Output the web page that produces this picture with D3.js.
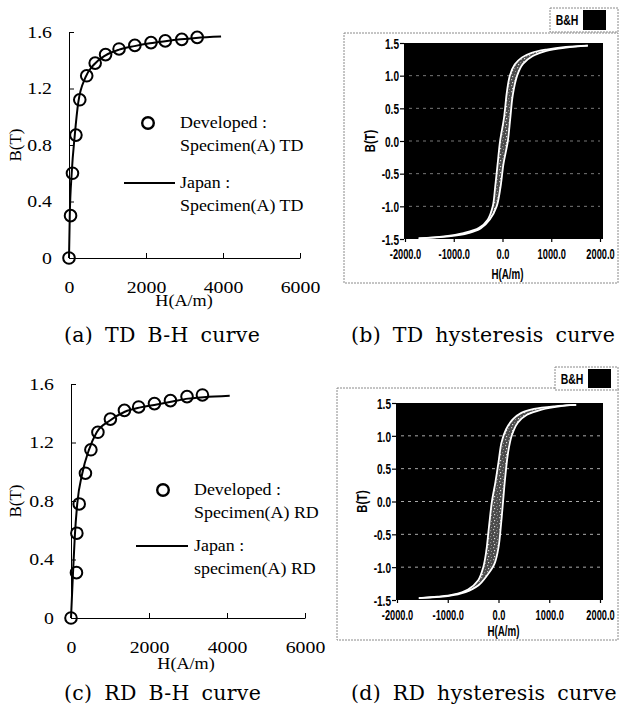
<!DOCTYPE html>
<html><head><meta charset="utf-8">
<script src="https://cdn.jsdelivr.net/npm/d3@7"></script>
<style>body{margin:0;background:#fff}svg{display:block}</style>
</head><body>
<svg id="c" width="619" height="712"></svg>
<script>
// ---------- data ----------
const bhTicksX = [0, 2000, 4000, 6000];
const bhTickLabelsX = ["0", "2000", "4000", "6000"];
const bhTicksY = [0, 0.4, 0.8, 1.2, 1.6];
const bhTickLabelsY = ["0", "0.4", "0.8", "1.2", "1.6"];

const tdDevH = [0, 40, 90, 180, 280, 460, 680, 950, 1300, 1710, 2130, 2500, 2930, 3330];
const tdDevB = [0, 0.30, 0.60, 0.87, 1.12, 1.29, 1.38, 1.44, 1.48, 1.505, 1.525, 1.537, 1.548, 1.562];
const tdJapH = [0, 20, 70, 150, 240, 430, 650, 950, 1300, 1700, 2100, 2500, 2900, 3300, 3950];
const tdJapB = [0, 0.30, 0.60, 0.87, 1.10, 1.28, 1.37, 1.435, 1.475, 1.50, 1.52, 1.535, 1.548, 1.558, 1.568];

const rdDevH = [0, 140, 150, 210, 370, 510, 690, 1010, 1370, 1735, 2140, 2550, 2975, 3370];
const rdDevB = [0, 0.31, 0.58, 0.78, 0.99, 1.15, 1.27, 1.36, 1.42, 1.443, 1.466, 1.486, 1.514, 1.525];
const rdJapH = [0, 50, 100, 160, 290, 460, 660, 1000, 1380, 1780, 2200, 2600, 3000, 3400, 4070];
const rdJapB = [0, 0.30, 0.57, 0.78, 0.99, 1.15, 1.27, 1.35, 1.41, 1.44, 1.46, 1.48, 1.50, 1.51, 1.52];

const hyTicksX = [-2000, -1000, 0, 1000, 2000];
const hyTickLabelsX = ["-2000.0", "-1000.0", "0.0", "1000.0", "2000.0"];
const hyTicksY = [-1.5, -1, -0.5, 0, 0.5, 1, 1.5];
const hyTickLabelsY = ["-1.5", "-1.0", "-0.5", "0.0", "0.5", "1.0", "1.5"];
const hyGrid = [-1, -0.5, 0, 0.5, 1];

const tdDescH = [1750, 1300, 900, 600, 400, 250, 150, 90, 30, -50, -100, -150, -200, -300, -480, -800, -1200, -1720];
const tdDescB = [1.46, 1.44, 1.40, 1.35, 1.28, 1.17, 1.0, 0.75, 0.35, 0, -0.35, -0.7, -1.0, -1.2, -1.33, -1.41, -1.46, -1.49];
const tdAscH = [-1720, -1100, -700, -450, -260, -120, -40, 20, 110, 160, 210, 300, 420, 620, 900, 1300, 1750];
const tdAscB = [-1.49, -1.46, -1.41, -1.34, -1.2, -1.0, -0.7, -0.35, 0, 0.35, 0.7, 1.0, 1.18, 1.3, 1.38, 1.43, 1.46];

const rdDescH = [1530, 1100, 700, 450, 280, 150, 60, 0, -60, -130, -190, -240, -300, -400, -600, -900, -1200, -1570];
const rdDescB = [1.47, 1.45, 1.41, 1.35, 1.25, 1.1, 0.9, 0.6, 0.3, 0, -0.4, -0.75, -1.0, -1.2, -1.34, -1.42, -1.45, -1.47];
const rdAscH = [-1570, -1000, -650, -400, -220, -80, 0, 50, 90, 130, 190, 260, 380, 560, 850, 1200, 1530];
const rdAscB = [-1.47, -1.44, -1.38, -1.28, -1.12, -0.95, -0.7, -0.35, 0, 0.35, 0.75, 1.0, 1.2, 1.32, 1.4, 1.45, 1.47];

const captions = ["(a) TD B-H curve", "(b) TD hysteresis curve", "(c) RD B-H curve", "(d) RD hysteresis curve"];

// ---------- helpers ----------
const svg = d3.select("#c");
const SERIF = "'Liberation Serif','Times New Roman',serif";
const SANS = "'Liberation Sans',Arial,sans-serif";

const defs = svg.append("defs");
const pat = defs.append("pattern").attr("id", "speck").attr("patternUnits", "userSpaceOnUse")
  .attr("width", 6).attr("height", 6);
pat.append("rect").attr("width", 6).attr("height", 6).attr("fill", "#4a4a4a");
[[1, 1, "#bbb"], [4, 2, "#888"], [2, 4, "#ddd"], [5, 5, "#999"]].forEach(p =>
  pat.append("rect").attr("x", p[0]).attr("y", p[1]).attr("width", 1.2).attr("height", 1.2).attr("fill", p[2]));

function stext(g, x, y, str, o) {
  o = o || {};
  const sx = o.sx || 1, rot = o.rot || 0;
  return g.append("text")
    .attr("transform", `translate(${x},${y}) rotate(${rot}) scale(${sx},1)`)
    .attr("text-anchor", o.anchor || "start")
    .attr("font-family", o.family || SERIF)
    .attr("font-size", o.size || 16)
    .attr("font-weight", o.weight || "normal")
    .attr("fill", o.fill || "#000")
    .text(str);
}
function scaleTickText(axisG, sx) {
  axisG.selectAll(".tick text").each(function () {
    const t = d3.select(this);
    const x = +t.attr("x") || 0;
    t.attr("x", x / sx).attr("transform", `scale(${sx},1)`);
  });
}
const zip = (a, b) => a.map((v, i) => [v, b[i]]);

// ---------- B-H panel ----------
function bhPanel(c) {
  const g = svg.append("g");
  const x = d3.scaleLinear().domain([0, 6000]).range([c.x0, c.x1]);
  const y = d3.scaleLinear().domain([0, 1.6]).range([c.y0, c.y1]);

  const ax = g.append("g").attr("transform", `translate(0,${c.y0})`)
    .call(d3.axisBottom(x).tickValues(bhTicksX).tickFormat((d, i) => bhTickLabelsX[i])
      .tickSizeInner(-5).tickSizeOuter(0).tickPadding(23));
  const ay = g.append("g").attr("transform", `translate(${c.x0},0)`)
    .call(d3.axisLeft(y).tickValues(bhTicksY).tickFormat((d, i) => bhTickLabelsY[i])
      .tickSizeInner(-5).tickSizeOuter(0).tickPadding(17));
  [ax, ay].forEach(a => {
    a.selectAll("text").attr("font-family", SERIF).attr("font-size", 16.5).attr("fill", "#000");
    a.selectAll("line,path").attr("stroke", "#000").attr("stroke-width", 1);
  });
  scaleTickText(ax, 1.2);
  scaleTickText(ay, 1.2);

  stext(g, 15, (c.y0 + c.y1) / 2, "B(T)", { rot: -90, anchor: "middle", size: 17, sx: 1.0 }).attr("dy", "0.35em");
  stext(g, c.hx, c.hy, "H(A/m)", { anchor: "middle", size: 16.5, sx: 1.1 });

  const line = d3.line().x(d => x(d[0])).y(d => y(d[1])).curve(d3.curveMonotoneX);
  g.append("path").datum(zip(c.japH, c.japB)).attr("d", line)
    .attr("fill", "none").attr("stroke", "#000").attr("stroke-width", 2);
  g.selectAll("circle.dev").data(zip(c.devH, c.devB)).join("circle")
    .attr("class", "dev").attr("cx", d => x(d[0])).attr("cy", d => y(d[1])).attr("r", 5.8)
    .attr("fill", "none").attr("stroke", "#000").attr("stroke-width", 2);

  const L = c.leg;
  g.append("circle").attr("cx", L.cx).attr("cy", L.cy).attr("r", 5.8)
    .attr("fill", "none").attr("stroke", "#000").attr("stroke-width", 2.4);
  const ls = { size: 16, sx: 1.12 };
  stext(g, L.tx, L.cy + 5, "Developed :", ls);
  stext(g, L.tx, L.cy + 28, L.l1, ls);
  g.append("line").attr("x1", L.lx0).attr("x2", L.lx1).attr("y1", L.ly).attr("y2", L.ly)
    .attr("stroke", "#000").attr("stroke-width", 2);
  stext(g, L.tx, L.ly + 5, "Japan :", ls);
  stext(g, L.tx, L.ly + 28, L.l2, ls);
}

// ---------- hysteresis panel ----------
function hyPanel(c) {
  const g = svg.append("g");
  g.append("rect").attr("x", c.fx0).attr("y", c.fy0).attr("width", c.fx1 - c.fx0).attr("height", c.fy1 - c.fy0)
    .attr("fill", "none").attr("stroke", "#8a8a8a").attr("stroke-width", 1).attr("stroke-dasharray", "2,1");
  g.append("rect").attr("x", c.lbx).attr("y", c.lby).attr("width", 618 - c.lbx).attr("height", c.lbh)
    .attr("fill", "#fff").attr("stroke", "#8a8a8a").attr("stroke-width", 1).attr("stroke-dasharray", "2,1");
  stext(g, c.lbx + 17, c.lby + c.lbh / 2 + 5, "B&H", { size: 14, weight: "bold", family: SANS, sx: 0.75, anchor: "middle" });
  g.append("rect").attr("x", c.lbx + 33).attr("y", c.lby + 2).attr("width", 23).attr("height", c.lbh - 4).attr("fill", "#000");

  const x = d3.scaleLinear().domain([-2000, 2000]).range([c.px0, c.px1]);
  const y = d3.scaleLinear().domain([-1.5, 1.5]).range([c.py0, c.py1]);
  g.append("rect").attr("x", c.px0 - 1).attr("y", c.py1).attr("width", c.px1 - c.px0 + 4).attr("height", c.py0 - c.py1)
    .attr("fill", "#000");

  g.selectAll("line.grid").data(hyGrid).join("line").attr("class", "grid")
    .attr("x1", c.px0 + 4).attr("x2", c.px1).attr("y1", d => y(d)).attr("y2", d => y(d))
    .attr("stroke", c.gridColor).attr("stroke-width", 1).attr("stroke-dasharray", "3,4");

  const ax = g.append("g").attr("transform", `translate(0,${c.py0})`)
    .call(d3.axisBottom(x).tickValues(hyTicksX).tickFormat((d, i) => hyTickLabelsX[i])
      .tickSizeInner(3).tickSizeOuter(0).tickPadding(7));
  const ay = g.append("g").attr("transform", `translate(${c.px0 - 1},0)`)
    .call(d3.axisLeft(y).tickValues(hyTicksY).tickFormat((d, i) => hyTickLabelsY[i])
      .tickSizeInner(4).tickSizeOuter(0).tickPadding(1));
  [ax, ay].forEach(a => {
    a.select(".domain").remove();
    a.selectAll("text").attr("font-family", SANS).attr("font-size", 14).attr("font-weight", "bold").attr("fill", "#000");
    a.selectAll("line").attr("stroke", "#000").attr("stroke-width", 1.2);
  });
  ay.selectAll("text").attr("dy", "0.38em");
  scaleTickText(ax, 0.66);
  scaleTickText(ay, 0.72);

  stext(g, c.bx, (c.py0 + c.py1) / 2, "B(T)", { rot: -90, anchor: "middle", size: 14, weight: "bold", family: SANS, sx: 0.8 }).attr("dy", "0.35em");
  stext(g, (c.px0 + c.px1) / 2 + 5, c.hy, "H(A/m)", { anchor: "middle", size: 14, weight: "bold", family: SANS, sx: 0.7 });

  const pts = zip(c.descH, c.descB).concat(zip(c.ascH, c.ascB).slice(1));
  const lineC = d3.line().x(d => x(d[0])).y(d => y(d[1])).curve(d3.curveCatmullRomClosed.alpha(0.5));
  g.append("path").datum(pts.slice(0, -1)).attr("d", lineC)
    .attr("fill", "url(#speck)").attr("stroke", "none");
  const lineO = d3.line().x(d => x(d[0])).y(d => y(d[1])).curve(d3.curveCatmullRom.alpha(0.5));
  [zip(c.descH, c.descB), zip(c.ascH, c.ascB)].forEach(br => {
    g.append("path").datum(br).attr("d", lineO).attr("fill", "none")
      .attr("stroke", "#fff").attr("stroke-width", 1.8);
  });
}

// ---------- build ----------
bhPanel({
  x0: 69, x1: 300, y0: 258, y1: 32, hx: 184, hy: 306,
  devH: tdDevH, devB: tdDevB, japH: tdJapH, japB: tdJapB,
  leg: { cx: 148, cy: 123, tx: 180, lx0: 124, lx1: 175, ly: 183, l1: "Specimen(A) TD", l2: "Specimen(A) TD" }
});
bhPanel({
  x0: 71, x1: 305, y0: 618, y1: 384, hx: 186, hy: 669,
  devH: rdDevH, devB: rdDevB, japH: rdJapH, japB: rdJapB,
  leg: { cx: 163, cy: 490, tx: 194, lx0: 136, lx1: 188, ly: 546, l1: "Specimen(A) RD", l2: "specimen(A) RD" }
});
hyPanel({
  fx0: 344, fx1: 618, fy0: 33, fy1: 283, lbx: 550, lby: 8, lbh: 24,
  px0: 405, px1: 600, py0: 239, py1: 43, bx: 370, hy: 279, gridColor: "#777",
  descH: tdDescH, descB: tdDescB, ascH: tdAscH, ascB: tdAscB
});
hyPanel({
  fx0: 337, fx1: 618, fy0: 388, fy1: 640, lbx: 555, lby: 367, lbh: 23,
  px0: 397, px1: 600, py0: 600, py1: 403, bx: 362, hy: 636, gridColor: "#aaa",
  descH: rdDescH, descB: rdDescB, ascH: rdAscH, ascB: rdAscB
});

// captions
const capPos = [[64, 342], [351, 342], [64, 700], [351, 700]];
captions.forEach((t, i) => {
  svg.append("text").attr("x", capPos[i][0]).attr("y", capPos[i][1])
    .attr("font-family", "'DejaVu Serif',serif").attr("font-size", 20.5)
    .attr("letter-spacing", 0.3).attr("word-spacing", 5)
    .attr("fill", "#000").text(t);
});
</script>
</body></html>
